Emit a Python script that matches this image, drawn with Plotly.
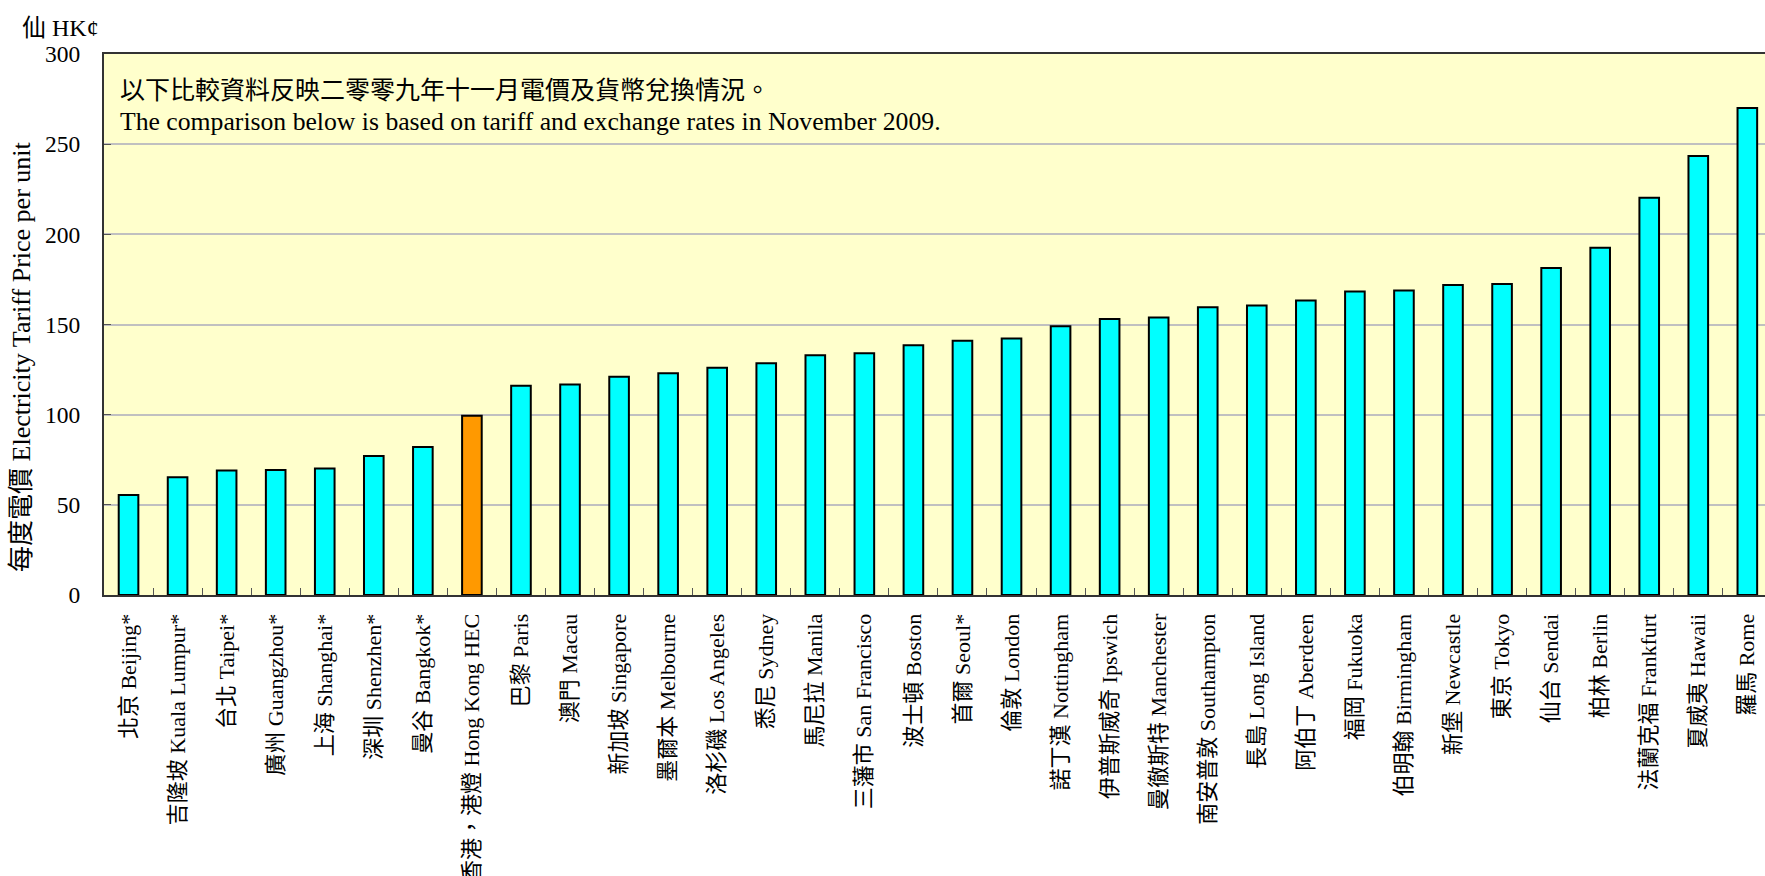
import plotly.graph_objects as go

cities = ["北京 Beijing*", "吉隆坡 Kuala Lumpur*", "台北 Taipei*", "廣州 Guangzhou*", "上海 Shanghai*",
          "深圳 Shenzhen*", "曼谷 Bangkok*", "香港，港燈 Hong Kong HEC", "巴黎 Paris", "澳門 Macau",
          "新加坡 Singapore", "墨爾本 Melbourne", "洛杉磯 Los Angeles", "悉尼 Sydney", "馬尼拉 Manila",
          "三藩市 San Francisco", "波士頓 Boston", "首爾 Seoul*", "倫敦 London", "諾丁漢 Nottingham",
          "伊普斯威奇 Ipswich", "曼徹斯特 Manchester", "南安普敦 Southampton", "長島 Long Island",
          "阿伯丁 Aberdeen", "福岡 Fukuoka", "伯明翰 Birmingham", "新堡 Newcastle", "東京 Tokyo",
          "仙台 Sendai", "柏林 Berlin", "法蘭克福 Frankfurt", "夏威夷 Hawaii", "羅馬 Rome"]
prices = [55.5, 65.3, 69.1, 69.3, 70.1, 77.1, 82.1, 99.4, 116.1, 116.7,
          121.0, 123.0, 126.0, 128.5, 133.0, 134.0, 138.5, 141.0, 142.2, 149.0,
          153.0, 153.9, 159.6, 160.6, 163.3, 168.3, 168.9, 171.9, 172.4, 181.3,
          192.6, 220.3, 243.4, 270.0]
highlight = "香港，港燈 Hong Kong HEC"
y_ticks = [0, 50, 100, 150, 200, 250, 300]

note_zh = "以下比較資料反映二零零九年十一月電價及貨幣兌換情況。"
note_en = "The comparison below is based on tariff and exchange rates in November 2009."

FONT = "Liberation Serif, 'Times New Roman', 'Noto Sans CJK TC', serif"

colors = ["#FF9900" if c == highlight else "#00FFFF" for c in cities]

fig = go.Figure()
fig.add_trace(go.Bar(
    x=cities, y=prices, width=0.4,
    marker=dict(color=colors, line=dict(color="black", width=2)),
))

fig.update_layout(
    width=1765, height=876,
    margin=dict(l=104, r=0, t=54, b=281),
    paper_bgcolor="white", plot_bgcolor="#FFFFCC",
    font=dict(family=FONT, size=20, color="black"),
    showlegend=False,
)
fig.update_xaxes(
    type="category", range=[-0.5, 33.36], automargin=False,
    tickangle=-90, tickfont=dict(size=22, family=FONT),
    ticks="inside", tickson="boundaries", ticklen=7, tickcolor="#555555",
    showline=True, linecolor="#333333", linewidth=2, mirror=True,
    showgrid=False, ticklabelstandoff=8,
)
fig.update_yaxes(
    range=[0, 300], tickvals=y_ticks, tickfont=dict(size=23.5, family=FONT),
    ticks="inside", ticklen=7, tickcolor="#555555", automargin=False,
    showline=True, linecolor="#333333", linewidth=2, mirror=True,
    showgrid=True, gridcolor="#C0C0C0", gridwidth=2,
    ticklabelstandoff=17, zeroline=False,
)

fig.add_annotation(x=0, y=1, xref="paper", yref="paper", xshift=-84, yshift=11,
                   text="仙 HK¢", showarrow=False, xanchor="left", yanchor="bottom",
                   font=dict(size=24, family=FONT))
fig.add_annotation(x=0, y=0.44, xref="paper", yref="paper", xshift=-82,
                   text="每度電價 Electricity Tariff Price per unit", showarrow=False,
                   textangle=-90, xanchor="center", yanchor="middle",
                   font=dict(size=26, family=FONT))
fig.add_annotation(x=0, y=1, xref="paper", yref="paper", xshift=14, yshift=-36,
                   text=note_zh, showarrow=False, xanchor="left", yanchor="middle",
                   font=dict(size=25, family=FONT))
fig.add_annotation(x=0, y=1, xref="paper", yref="paper", xshift=14, yshift=-67,
                   text=note_en, showarrow=False, xanchor="left", yanchor="middle",
                   font=dict(size=25.7, family=FONT))

fig.write_html("out.html", config={"displayModeBar": False},
               post_script="document.body.style.margin='0px';document.body.style.overflow='hidden';")
